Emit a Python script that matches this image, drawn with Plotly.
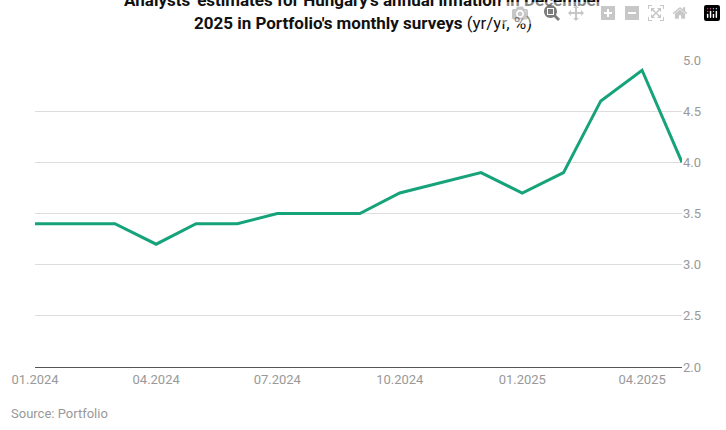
import plotly.graph_objects as go

months = ["2024-01-01", "2024-02-01", "2024-03-01", "2024-04-01", "2024-05-01",
          "2024-06-01", "2024-07-01", "2024-08-01", "2024-09-01", "2024-10-01",
          "2024-11-01", "2024-12-01", "2025-01-01", "2025-02-01", "2025-03-01",
          "2025-04-01", "2025-05-01"]
estimates = [3.4, 3.4, 3.4, 3.2, 3.4, 3.4, 3.5, 3.5, 3.5, 3.7, 3.8, 3.9,
             3.7, 3.9, 4.6, 4.9, 4.0]
tick_dates = ["2024-01-01", "2024-04-01", "2024-07-01", "2024-10-01",
              "2025-01-01", "2025-04-01"]
tick_labels = ["01.2024", "04.2024", "07.2024", "10.2024", "01.2025", "04.2025"]
y_ticks = [2.0, 2.5, 3.0, 3.5, 4.0, 4.5, 5.0]

fig = go.Figure()
fig.add_trace(go.Scatter(
    x=months, y=estimates, mode="lines",
    line=dict(color="#16a37a", width=3), hoverinfo="x+y"
))

fig.update_layout(
    width=726, height=430,
    margin=dict(l=35, r=44, t=60, b=63),
    paper_bgcolor="white", plot_bgcolor="white",
    font=dict(family="Roboto", color="#999999", size=13),
    showlegend=False,
    title=dict(
        text="<b>Analysts' estimates for Hungary's annual inflation in December</b><br>"
             "<b>2025 in Portfolio's monthly surveys</b> (yr/yr, %)",
        x=0.5, xanchor="center", y=0.985, yanchor="top",
        font=dict(family="Roboto", size=17, color="#111111"),
    ),
    xaxis=dict(
        type="date", range=["2024-01-01", "2025-05-01"],
        tickvals=tick_dates, ticktext=tick_labels,
        showgrid=False, showline=True, linecolor="#555555", linewidth=1,
        ticks="", tickfont=dict(size=13, color="#999999"),
    ),
    yaxis=dict(
        side="right", range=[2.0, 5.0], tickvals=y_ticks,
        ticktext=[f"{v:.1f}" for v in y_ticks],
        showgrid=True, gridcolor="#dddddd", zeroline=False,
        tickfont=dict(size=13, color="#999999"),
    ),
)

fig.add_annotation(
    text="Source: Portfolio", xref="paper", yref="paper",
    x=-0.04, y=-0.12, xanchor="left", yanchor="top", showarrow=False,
    font=dict(size=13, color="#999999"),
)

# page margin off so the figure sits flush in the window
fig.write_html("out.html", post_script="document.body.style.margin='0';")
